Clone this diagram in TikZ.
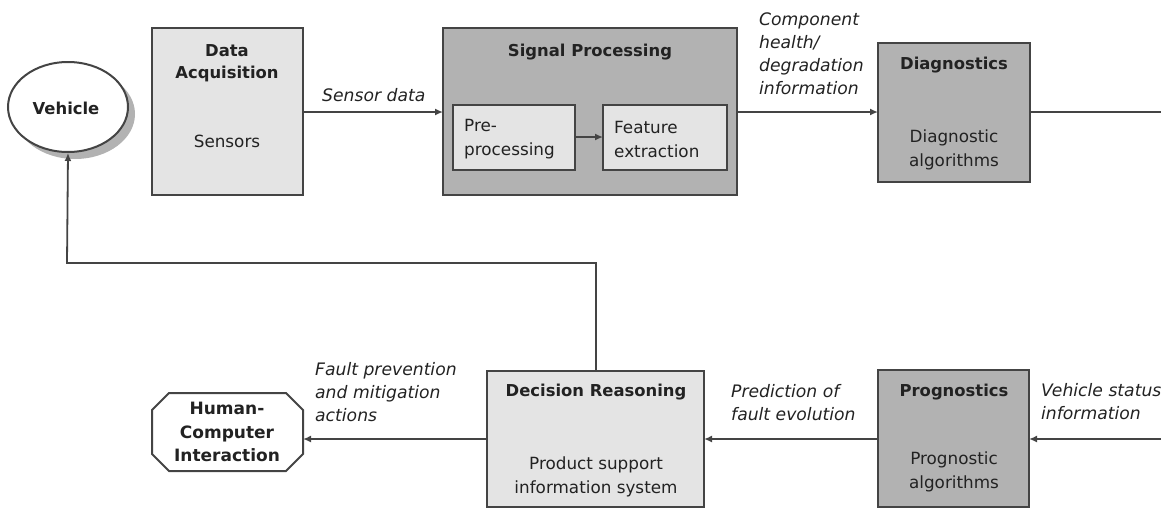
\documentclass[tikz,border=0pt]{standalone}
\usepackage{fontspec}
\setmainfont{DejaVu Sans}
\usetikzlibrary{arrows.meta,shapes.geometric,shapes.misc}
\definecolor{lightbox}{HTML}{E4E4E4}
\definecolor{darkbox}{HTML}{B2B2B2}
\definecolor{edge}{HTML}{444444}
\definecolor{ink}{HTML}{222222}
\tikzset{
  box/.style={draw=edge,line width=2pt,minimum width=0pt},
  ttl/.style={font=\fontsize{16.4}{22}\selectfont\bfseries,text=ink,align=center,inner sep=0pt},
  body/.style={font=\fontsize{16.8}{24}\selectfont,text=ink,align=center,inner sep=0pt},
  lbl/.style={font=\fontsize{17.2}{23}\selectfont\itshape,text=ink,align=left,inner sep=0pt,anchor=west},
  conn/.style={draw=edge,line width=1.8pt},
  arr/.style={conn,-{Latex[length=8pt,width=7pt]}},
}
\begin{document}
\begin{tikzpicture}[x=1pt,y=-1pt]
\useasboundingbox (0,0) rectangle (1161,509);
% Vehicle
\fill[gray!60] (75,114) ellipse [x radius=60, y radius=45];
\node[ellipse,draw=edge,fill=white,line width=2pt,minimum width=120pt,minimum height=90pt,inner sep=0pt] (veh) at (68,107) {};
\node[ttl] (vehT) at (66,108) {Vehicle};
% Data acquisition
\draw[box,fill=lightbox] (152,28) rectangle (303,195);
\coordinate (daE) at (303,112);
\node[ttl] (daT) at (227,63) {Data\\Acquisition};
\node[body] (daB) at (227,141) {Sensors};
% Signal processing
\draw[box,fill=darkbox] (443,28) rectangle (737,195);
\coordinate (spW) at (443,112);
\coordinate (spE) at (737,112);
\node[ttl] (spT) at (590,52) {Signal Processing};
\draw[box,fill=lightbox] (453,105) rectangle (575,170);
\draw[box,fill=lightbox] (603,105) rectangle (727,170);
\coordinate (preE) at (575,137);
\coordinate (feW) at (603,137);
\node[body,align=left,anchor=west] (preT) at (464,139) {Pre-\\processing};
\node[body,align=left,anchor=west] (feT) at (614,139) {Feature\\extraction};
% Diagnostics
\draw[box,fill=darkbox] (878,43) rectangle (1030,182);
\coordinate (diW) at (878,112);
\coordinate (diE) at (1030,112);
\node[ttl] (diT) at (954,65) {Diagnostics};
\node[body] (diB) at (954,150) {Diagnostic\\algorithms};
\coordinate (rTop) at (1161,112);
% Decision reasoning
\draw[box,fill=lightbox] (487,371) rectangle (704,507);
\coordinate (drN) at (596,371);
\coordinate (drE) at (704,439);
\coordinate (drW) at (487,439);
\node[ttl] (drT) at (596,392) {Decision Reasoning};
\node[body] (drB) at (596,477) {Product support\\information system};
% Prognostics
\draw[box,fill=darkbox] (878,370) rectangle (1029,507);
\coordinate (prE) at (1029,439);
\coordinate (prW) at (878,439);
\node[ttl] (prT) at (954,392) {Prognostics};
\node[body] (prB) at (954,472) {Prognostic\\algorithms};
\coordinate (rBot) at (1161,439);
% HCI
\draw[box,fill=white] (169,393) -- (286,393) -- (303,410) -- (303,454) -- (286,471) -- (169,471) -- (152,454) -- (152,410) -- cycle;
\coordinate (hciE) at (303,439);
\node[ttl,font=\fontsize{17}{23.5}\selectfont\bfseries] (hciT) at (227,432) {Human-\\Computer\\Interaction};
% connectors
\draw[arr] (daE) -- (spW);
\node[lbl] (l1) at (322,95) {Sensor data};
\draw[arr] (preE) -- (feW);
\draw[arr] (spE) -- (diW);
\node[lbl] (l2) at (759,54) {Component\\health/\\degradation\\information};
\draw[conn] (diE) -- (rTop);
\draw[arr] (rBot) -- (prE);
\node[lbl] (l3) at (1041,402) {Vehicle status\\information};
\draw[arr] (prW) -- (drE);
\node[lbl] (l4) at (731,403) {Prediction of\\fault evolution};
\draw[arr] (drW) -- (hciE);
\node[lbl] (l5) at (315,392) {Fault prevention\\and mitigation\\actions};
\draw[arr] (drN) |- (67,263) -- (veh.south);
\end{tikzpicture}
\end{document}
